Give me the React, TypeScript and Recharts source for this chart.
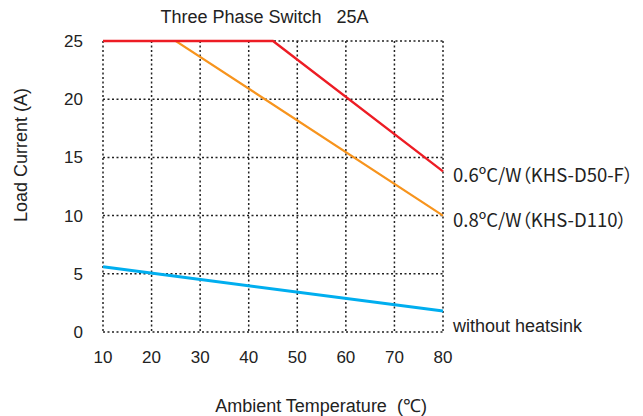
import React from "react";
import { LineChart, Line, XAxis, YAxis, CartesianGrid } from "recharts";

const xTicks = [10, 20, 30, 40, 50, 60, 70, 80];
const yTicks = [0, 5, 10, 15, 20, 25];

const redSeries = [
  { t: 10, v: 25 },
  { t: 45, v: 25 },
  { t: 80, v: 13.8 },
];
const orangeSeries = [
  { t: 10, v: 25 },
  { t: 25, v: 25 },
  { t: 80, v: 10 },
];
const blueSeries = [
  { t: 10, v: 5.6 },
  { t: 80, v: 1.8 },
];

const redLabel = "0.6ºC/W（KHS-D50-F）";
const orangeLabel = "0.8ºC/W（KHS-D110）";
const blueLabel = "without heatsink";

const FONT = "'Liberation Sans', Arial, sans-serif";
const CJK = "'Noto Sans CJK JP', 'Noto Sans', sans-serif";

const endLabel = (text: string, len: number, dy: number, family: string, size: number) => (props: any) => {
  if (props.index !== len - 1) return null;
  return (
    <text
      x={props.x + 10}
      y={props.y + dy}
      fontSize={size}
      fontFamily={family}
      fill="#222"
      dominantBaseline="central"
      style={{ fontFeatureSettings: '"palt"' }}
    >
      {text}
    </text>
  );
};

export default function App() {
  return (
    <div style={{ position: "absolute", left: 0, top: 0, width: 643, height: 416, background: "#fff", fontFamily: FONT }}>
      <LineChart
        width={643}
        height={416}
        margin={{ top: 41, right: 200, bottom: 44, left: 43 }}
      >
        <CartesianGrid stroke="#222" strokeWidth={1.5} strokeDasharray="2 2.5" />
        <XAxis
          type="number"
          dataKey="t"
          domain={[10, 80]}
          ticks={xTicks}
          axisLine={false}
          tickLine={false}
          tickSize={0}
          tickMargin={19}
          height={40}
          tick={{ fontSize: 17, fill: "#222", fontFamily: FONT }}
          allowDuplicatedCategory={false}
        />
        <YAxis
          type="number"
          domain={[0, 25]}
          ticks={yTicks}
          axisLine={false}
          tickLine={false}
          tickSize={0}
          tickMargin={20}
          width={60}
          tick={{ fontSize: 17, fill: "#222", fontFamily: FONT }}
        />
        <Line
          data={orangeSeries}
          dataKey="v"
          stroke="#f7941d"
          strokeWidth={2.2}
          dot={false}
          isAnimationActive={false}
          label={endLabel(orangeLabel, orangeSeries.length, 3, CJK, 18.5)}
        />
        <Line
          data={redSeries}
          dataKey="v"
          stroke="#ed1c24"
          strokeWidth={2.4}
          dot={false}
          isAnimationActive={false}
          label={endLabel(redLabel, redSeries.length, 3, CJK, 18.5)}
        />
        <Line
          data={blueSeries}
          dataKey="v"
          stroke="#00aeef"
          strokeWidth={3}
          dot={false}
          isAnimationActive={false}
          label={endLabel(blueLabel, blueSeries.length, 15, FONT, 18)}
        />
      </LineChart>
      <div style={{ position: "absolute", left: 0, width: 529, top: 7, textAlign: "center", fontSize: 18, color: "#222", whiteSpace: "pre" }}>
        {"Three Phase Switch   25A"}
      </div>
      <div style={{ position: "absolute", left: 0, width: 642, top: 393, textAlign: "center", fontSize: 18, color: "#222", whiteSpace: "pre" }}>
        {"Ambient Temperature  (℃)"}
      </div>
      <div
        style={{
          position: "absolute",
          left: 21,
          top: 155,
          transform: "translate(-50%, -50%) rotate(-90deg)",
          fontSize: 18,
          color: "#222",
          whiteSpace: "nowrap",
        }}
      >
        Load Current (A)
      </div>
    </div>
  );
}
